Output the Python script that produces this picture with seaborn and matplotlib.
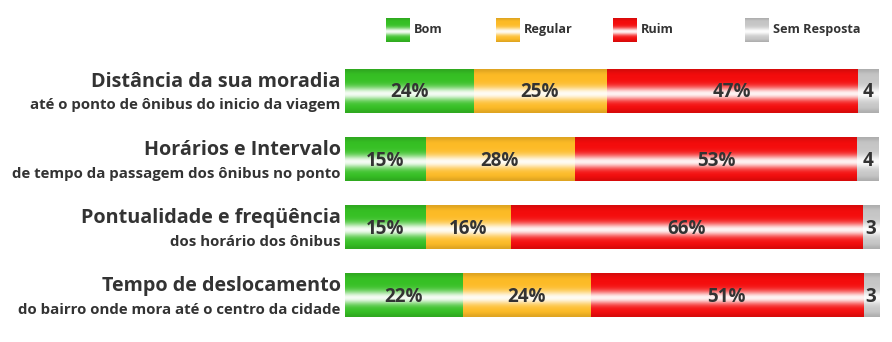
import numpy as np
import pandas as pd
import matplotlib
matplotlib.use("Agg")
import matplotlib.pyplot as plt
from matplotlib.colors import to_rgb
import seaborn as sns

# ---- data ---------------------------------------------------------------
titles = [
    "Distância da sua moradia",
    "Horários e Intervalo",
    "Pontualidade e freqüência",
    "Tempo de deslocamento",
]
subtitles = [
    "até o ponto de ônibus do inicio da viagem",
    "de tempo da passagem dos ônibus no ponto",
    "dos horário dos ônibus",
    "do bairro onde mora até o centro da cidade",
]
series_names = ["Bom", "Regular", "Ruim", "Sem Resposta"]
bom = [24, 15, 15, 22]
regular = [25, 28, 16, 24]
ruim = [47, 53, 66, 51]
sem_resposta = [4, 4, 3, 3]
value_labels = {
    "Bom": ["24%", "15%", "15%", "22%"],
    "Regular": ["25%", "28%", "16%", "24%"],
    "Ruim": ["47%", "53%", "66%", "51%"],
    "Sem Resposta": ["4", "4", "3", "3"],
}

# ---- styling ------------------------------------------------------------
base_colors = {
    "Bom": "#36c024",
    "Regular": "#fdbb26",
    "Ruim": "#f40c0c",
    "Sem Resposta": "#c6c6c6",
}
TEXT = "#333333"

sns.set_theme(style="white")
plt.rcParams["font.family"] = ["Open Sans", "DejaVu Sans"]


def glossy(color, n=64):
    """Vertical glossy gradient: saturated edges, white highlight band."""
    c = np.array(to_rgb(color))
    t = np.linspace(0, 1, n)
    white = 0.95 * np.exp(-((t - 0.56) / 0.155) ** 2)
    dark = 0.12 * np.exp(-(t / 0.08) ** 2) + 0.12 * np.exp(-((1 - t) / 0.08) ** 2)
    rgb = c[None, :] * (1 - white[:, None]) + white[:, None]
    rgb = rgb * (1 - dark[:, None])
    return np.clip(rgb[:, None, :], 0, 1)


df = pd.DataFrame({
    "tema": titles,
    "Bom": bom,
    "Regular": regular,
    "Ruim": ruim,
    "Sem Resposta": sem_resposta,
})
cum = df[series_names].cumsum(axis=1)
starts = cum - df[series_names]

W, H = 892, 342
fig = plt.figure(figsize=(W / 100, H / 100), dpi=100)
fig.patch.set_facecolor("white")

left_px, right_px = 345, 878.7
top_px, bot_px = 56.9, 329.8
ax = fig.add_axes([left_px / W, 1 - bot_px / H,
                   (right_px - left_px) / W, (bot_px - top_px) / H])

bar_w = 0.635
# Stacked bars: draw cumulative totals from the longest to the shortest
for z, name in enumerate(reversed(series_names)):
    before = len(ax.patches)
    sns.barplot(x=cum[name], y=df["tema"], orient="h", color=base_colors[name],
                width=bar_w, ax=ax, zorder=2 + z, linewidth=0, saturation=1)
    for i, p in enumerate(ax.patches[before:]):
        x0 = starts.loc[i, name]
        x1 = cum.loc[i, name]
        y0 = p.get_y()
        y1 = y0 + p.get_height()
        ax.imshow(glossy(base_colors[name]), extent=[x0, x1, y1, y0],
                  aspect="auto", interpolation="bilinear", zorder=2 + z + 0.5)
        # value label in the middle of the segment
        ax.text((x0 + x1) / 2, (y0 + y1) / 2 + 0.02, value_labels[name][i],
                ha="center", va="center", fontsize=13.5, fontweight="bold",
                color=TEXT, zorder=20)

ax.set_xlim(0, 100)
ax.set_ylim(3.5, -0.5)
ax.set_axis_off()

# Row labels: bold title and smaller description, right-aligned to the bars
for i, (t, s) in enumerate(zip(titles, subtitles)):
    ax.annotate(t, xy=(0, i), xytext=(-3, 3.1), textcoords="offset points",
                ha="right", va="baseline", fontsize=14.2, fontweight="bold",
                color=TEXT, annotation_clip=False)
    ax.annotate(s, xy=(0, i), xytext=(-3, -13.2), textcoords="offset points",
                ha="right", va="baseline", fontsize=10.85, fontweight="bold",
                color=TEXT, annotation_clip=False)

# Legend with glossy swatches
legend_x = {"Bom": 386, "Regular": 496, "Ruim": 613, "Sem Resposta": 745}
sw_w, sw_top, sw_bot = 24, 18.3, 42.3
for name in series_names:
    x = legend_x[name]
    sax = fig.add_axes([x / W, 1 - sw_bot / H, sw_w / W, (sw_bot - sw_top) / H])
    sax.imshow(glossy(base_colors[name]), aspect="auto", interpolation="bilinear")
    sax.set_axis_off()
    fig.text((x + sw_w + 4) / W, 1 - 29.5 / H, name, ha="left", va="center",
             fontsize=9.1, fontweight="bold", color=TEXT)

fig.savefig("out.png", dpi=100, facecolor="white")
